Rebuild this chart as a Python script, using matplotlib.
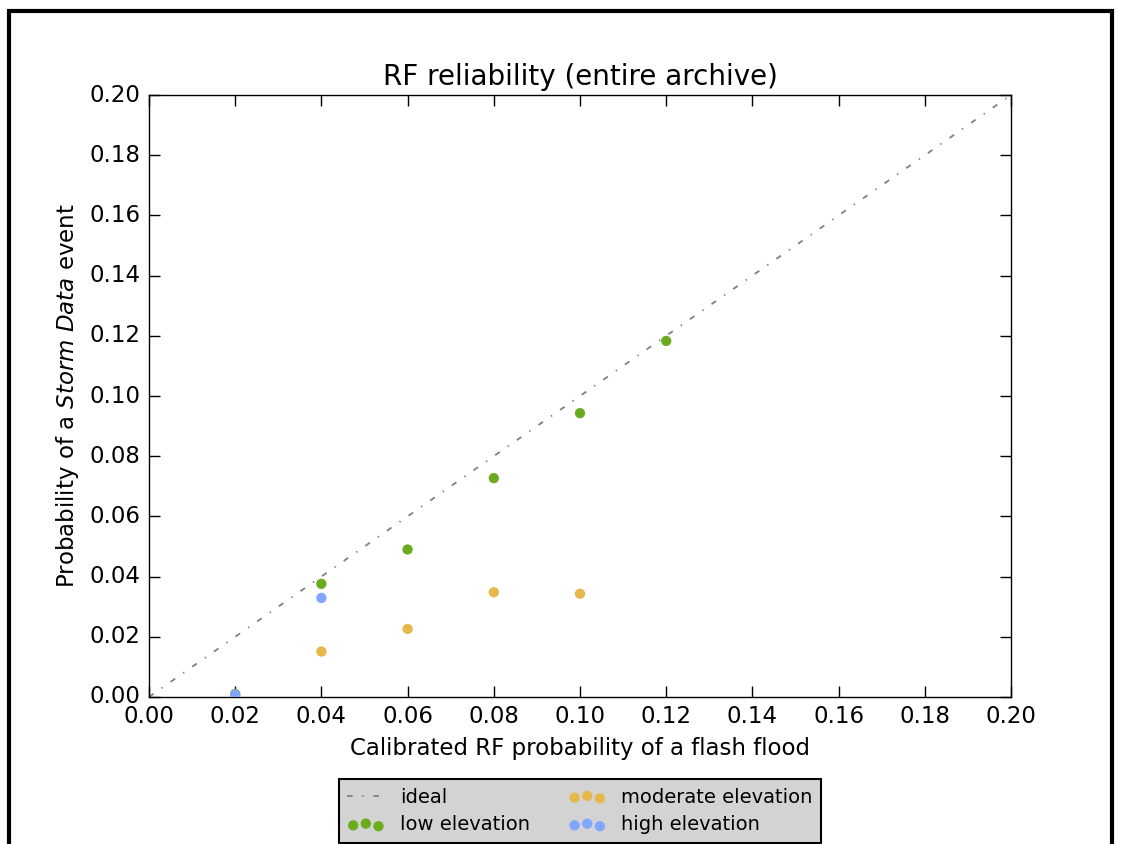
import matplotlib
matplotlib.use("Agg")
import matplotlib.pyplot as plt
from matplotlib.patches import Rectangle

plt.style.use("classic")
plt.rcParams["mathtext.fontset"] = "dejavusans"
plt.rcParams["font.family"] = "DejaVu Sans"

# reliability points
low_x = [0.02, 0.04, 0.06, 0.08, 0.10, 0.12]
low_y = [0.0010, 0.0376, 0.0490, 0.0727, 0.0943, 0.1183]
mod_x = [0.02, 0.04, 0.06, 0.08, 0.10]
mod_y = [0.0006, 0.0151, 0.0226, 0.0348, 0.0343]
high_x = [0.02, 0.04]
high_y = [0.0008, 0.0329]
ideal = [0.0, 0.2]
ticks = [0.00, 0.02, 0.04, 0.06, 0.08, 0.10, 0.12, 0.14, 0.16, 0.18, 0.20]

fig = plt.figure(figsize=(11.26, 8.44), dpi=100, facecolor="white")
ax = fig.add_axes([0.1323, 0.1742, 0.7656, 0.7132])

ax.plot(ideal, ideal, color="grey", linewidth=1.3, dashes=(4, 7, 1, 7), label="ideal")
ax.scatter(low_x, low_y, s=55, color="#6aac1e", edgecolors="none", label="low elevation", zorder=3)
ax.scatter(mod_x, mod_y, s=55, color="#e6b84c", edgecolors="none", label="moderate elevation", zorder=3)
ax.scatter(high_x, high_y, s=55, color="#80a6ff", edgecolors="none", label="high elevation", zorder=3)

ax.set_xlim(0, 0.2)
ax.set_ylim(0, 0.2)
ax.set_xticks(ticks)
ax.set_yticks(ticks)
ax.set_xticklabels(["%.2f" % t for t in ticks])
ax.set_yticklabels(["%.2f" % t for t in ticks])
ax.tick_params(labelsize=16.5, direction="in", length=8, width=1, pad=6)

ax.set_title("RF reliability (entire archive)", fontsize=20, y=1.005)
ax.set_xlabel("Calibrated RF probability of a flash flood", fontsize=16.5, labelpad=6)
ax.set_ylabel(r"Probability of a $\it{Storm\ Data}$ event", fontsize=16.5, labelpad=6)

leg = ax.legend(loc="upper center", bbox_to_anchor=(0.5, -0.12), ncol=2,
                fontsize=14, scatterpoints=3, numpoints=1, frameon=True,
                fancybox=False, columnspacing=2.0, handletextpad=0.8,
                handlelength=1.9, borderpad=0.45, labelspacing=0.45)
leg.get_frame().set_facecolor("lightgrey")
leg.get_frame().set_edgecolor("black")
leg.get_frame().set_linewidth(1.5)

# outer frame around the figure
fig.patches.append(Rectangle((0.008, -0.1), 0.98, 1.087, transform=fig.transFigure,
                             fill=False, edgecolor="black", linewidth=3))

fig.savefig("out.png", dpi=100, facecolor="white")
